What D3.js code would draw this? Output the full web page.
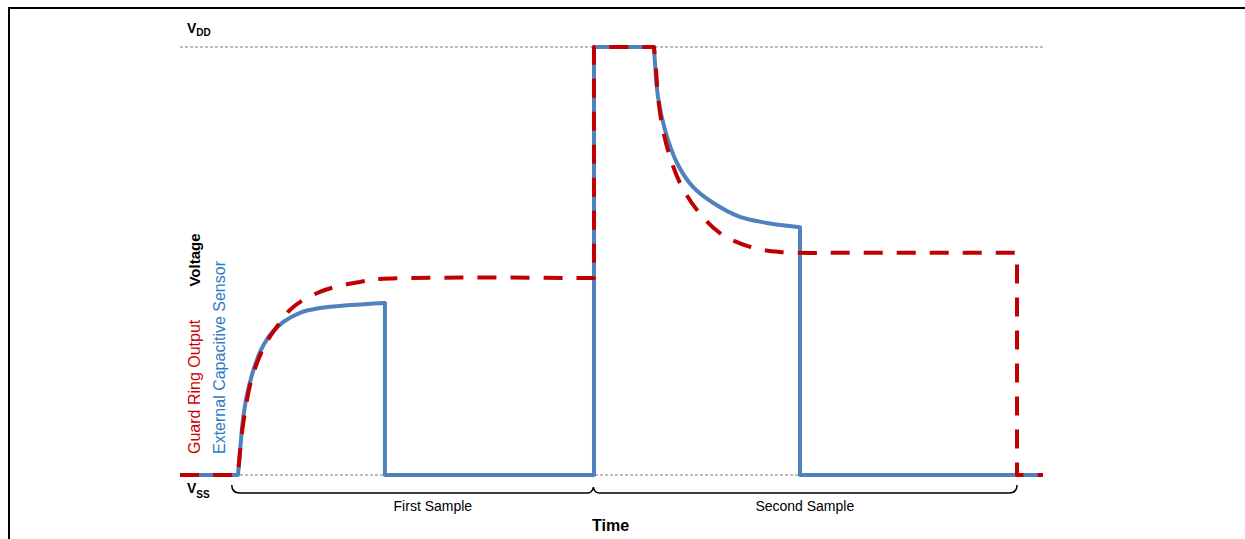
<!DOCTYPE html>
<html>
<head>
<meta charset="utf-8">
<script src="https://cdn.jsdelivr.net/npm/d3@7"></script>
<style>
  html, body { margin: 0; padding: 0; background: #fff; }
  svg { display: block; font-family: "Liberation Sans", Arial, sans-serif; }
</style>
</head>
<body>
<svg id="chart" width="1245" height="539"></svg>
<script>
// ---- Data (time in arbitrary units 0..100, voltage in % of VDD) ----
const sensorTime = [0, 6.72, 6.95, 7.30, 7.76, 8.34, 9.27, 10.43, 11.94, 13.90, 16.22, 19.70, 23.75, 23.75, 47.97, 47.97, 54.92, 55.04, 55.39, 56.20, 57.59, 59.44, 61.76, 64.89, 68.02, 71.84, 71.84, 100];
const sensorVolt = [0, 0, 5.4, 12.9, 18.7, 23.4, 28.7, 32.7, 35.7, 37.9, 39.0, 39.7, 40.2, 0, 0, 100, 100, 96.3, 88.3, 80.6, 72.9, 67.3, 63.6, 60.3, 58.9, 57.9, 0, 0];
// index ranges drawn as smooth curves
const sensorCurves = [[1, 12], [16, 25]];

const guardTime = [0, 6.72, 7.30, 8.34, 9.85, 11.36, 12.75, 13.90, 16.22, 18.54, 20.86, 23.17, 47.97, 47.97, 54.92, 55.16, 55.39, 55.97, 56.78, 57.94, 59.91, 62.57, 66.05, 69.52, 74.16, 96.99, 96.99, 100];
const guardVolt = [0, 0, 11.7, 22.7, 30.4, 35.0, 38.6, 40.4, 42.8, 44.2, 45.1, 45.8, 46.0, 100, 100, 94.6, 88.3, 80.6, 74.3, 68.2, 61.9, 56.5, 53.3, 52.1, 51.9, 51.9, 0, 0];
const guardCurves = [[1, 12], [14, 24]];

const railValues = [0, 100];
const railLabels = [["V", "SS"], ["V", "DD"]];

const sampleStart = [6.0, 47.9];
const sampleEnd = [47.9, 96.99];
const sampleLabels = ["First Sample", "Second Sample"];
const sampleLabelAt = [29.3, 72.4];

const seriesNames = ["Guard Ring Output", "External Capacitive Sensor"];
const yTitle = "Voltage";
const xTitle = "Time";
const xTitleAt = 49.9;

// ---- Layout ----
const svg = d3.select("#chart");
const x = d3.scaleLinear().domain([0, 100]).range([180, 1043]);
const y = d3.scaleLinear().domain([0, 100]).range([475, 47]);

// frame
svg.append("rect").attr("x", 9).attr("y", 8).attr("width", 1400).attr("height", 700)
  .attr("fill", "none").attr("stroke", "#000").attr("stroke-width", 2);

// rails (dotted)
svg.selectAll("line.rail").data(railValues).enter().append("line")
  .attr("class", "rail")
  .attr("x1", x(0)).attr("x2", x(100))
  .attr("y1", d => y(d)).attr("y2", d => y(d))
  .attr("stroke", "#7f7f7f").attr("stroke-width", 1).attr("stroke-dasharray", "3,2");

// rail labels
railLabels.forEach((lab, i) => {
  const ty = i === 1 ? 33 : 493;
  const t = svg.append("text").attr("x", 187).attr("y", ty)
    .attr("font-weight", "bold").attr("font-size", 14).attr("fill", "#000");
  t.append("tspan").text(lab[0]);
  t.append("tspan").attr("font-size", 10).attr("dy", i === 1 ? 2.5 : 5).text(lab[1]);
});

// series path builder: straight segments, with smooth curves on given index ranges
const lin = d3.line().x(d => x(d[0])).y(d => y(d[1]));
const smooth = d3.line().x(d => x(d[0])).y(d => y(d[1])).curve(d3.curveCatmullRom.alpha(0.5));
function buildPath(ts, vs, curves) {
  const pts = ts.map((t, i) => [t, vs[i]]);
  let d = "M" + x(pts[0][0]) + "," + y(pts[0][1]);
  let i = 1;
  while (i < pts.length) {
    const c = curves.find(r => r[0] === i - 1);
    if (c) {
      d += smooth(pts.slice(c[0], c[1] + 1)).replace(/^M[^CLQ]*/, "");
      i = c[1] + 1;
    } else {
      d += "L" + x(pts[i][0]) + "," + y(pts[i][1]);
      i++;
    }
  }
  return d;
}

svg.append("path").attr("d", buildPath(sensorTime, sensorVolt, sensorCurves))
  .attr("fill", "none").attr("stroke", "#4F81BD").attr("stroke-width", 4)
  .attr("stroke-linejoin", "round");

svg.append("path").attr("d", buildPath(guardTime, guardVolt, guardCurves))
  .attr("fill", "none").attr("stroke", "#C00000").attr("stroke-width", 4)
  .attr("stroke-dasharray", "19,14").attr("stroke-linejoin", "round");

// braces
const by = 493, r = 6;
const bp = d3.path();
const xs = x(sampleStart[0]), xm = x(sampleEnd[0]), xe = x(sampleEnd[1]);
bp.moveTo(xs, by - 8);
bp.quadraticCurveTo(xs, by, xs + r + 2, by);
bp.lineTo(xm - r, by);
bp.quadraticCurveTo(xm - 1, by, xm, by - 6);
bp.quadraticCurveTo(xm + 1, by, xm + r, by);
bp.lineTo(xe - r - 2, by);
bp.quadraticCurveTo(xe, by, xe, by - 8);
svg.append("path").attr("d", bp.toString()).attr("fill", "none")
  .attr("stroke", "#000").attr("stroke-width", 1.5);

svg.selectAll("text.sample").data(sampleLabels).enter().append("text")
  .attr("class", "sample")
  .attr("x", (d, i) => x(sampleLabelAt[i])).attr("y", 511)
  .attr("text-anchor", "middle").attr("font-size", 14).attr("fill", "#000")
  .text(d => d);

// axis titles
svg.append("text").attr("x", x(xTitleAt)).attr("y", 531).attr("text-anchor", "middle")
  .attr("font-weight", "bold").attr("font-size", 16).text(xTitle);

svg.append("text").attr("transform", "translate(200,260) rotate(-90)")
  .attr("text-anchor", "middle").attr("font-weight", "bold").attr("font-size", 15).text(yTitle);

const seriesColors = ["#CC0000", "#2E7BC4"];
const seriesX = [200, 225];
seriesNames.forEach((n, i) => {
  svg.append("text").attr("transform", `translate(${seriesX[i]},454) rotate(-90)`)
    .attr("text-anchor", "start").attr("font-size", 16).attr("fill", seriesColors[i]).text(n);
});
</script>
</body>
</html>
